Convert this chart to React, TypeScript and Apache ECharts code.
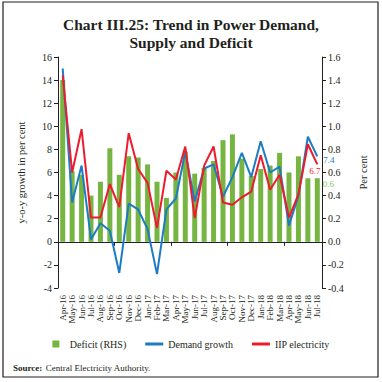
import React, { useEffect, useRef } from "react";
import * as echarts from "echarts";

const categories = [
  "Apr-16", "May-16", "Jun-16", "Jul-16", "Aug-16", "Sep-16", "Oct-16", "Nov-16", "Dec-16",
  "Jan-17", "Feb-17", "Mar-17", "Apr-17", "May-17", "Jun-17", "Jul-17", "Aug-17", "Sep-17",
  "Oct-17", "Nov-17", "Dec-17", "Jan-18", "Feb-18", "Mar-18", "Apr-18", "May-18", "Jun-18", "Jul-18",
];
const deficit = [
  1.4, 0.61, 0.58, 0.4, 0.52, 0.81, 0.58, 0.74, 0.73, 0.67, 0.52, 0.38, 0.6, 0.78,
  0.59, 0.64, 0.7, 0.88, 0.93, 0.72, 0.57, 0.63, 0.66, 0.77, 0.6, 0.74, 0.55, 0.55,
];
const demandGrowth = [
  15.0, 3.4, 6.6, 0.2, 1.6, 0.95, -2.7, 3.3, 2.8, 1.1, -2.8, 2.8, 3.75, 7.8,
  3.5, 6.35, 6.7, 3.9, 5.6, 7.7, 5.6, 8.7, 6.0, 6.5, 1.4, 4.0, 9.1, 7.4,
];
const iipElectricity = [
  14.4, 6.0, 9.75, 2.1, 2.1, 5.0, 3.0, 9.4, 6.3, 5.1, 1.2, 6.15, 5.4, 8.25,
  2.05, 6.6, 8.25, 3.4, 3.2, 3.85, 4.35, 7.5, 4.5, 5.8, 2.1, 4.1, 8.45, 6.7,
];
const leftTicks = { min: -4, max: 16, interval: 2 };
const rightTicks = { min: -0.4, max: 1.6, interval: 0.2 };

const GREEN = "#77b543";
const BLUE = "#1b7cc4";
const RED = "#ec1c2e";
const FONT = "'Liberation Serif', 'DejaVu Serif', serif";

export default function App() {
  const ref = useRef<HTMLDivElement>(null);
  useEffect(() => {
    if (!ref.current) return;
    const chart = echarts.init(ref.current, null, { renderer: "svg" });
    const last = categories.length - 1;
    const option: any = {
      animation: false,
      backgroundColor: "#ffffff",
      textStyle: { fontFamily: FONT, color: "#231f20" },
      title: {
        text: "Chart III.25: Trend in Power Demand,\nSupply and Deficit",
        left: "center",
        top: 10,
        textStyle: { fontFamily: FONT, fontWeight: "bold", fontSize: 15.5, lineHeight: 18, color: "#231f20" },
      },
      graphic: [
        {
          type: "rect",
          shape: { x: 3, y: 2, width: 375, height: 375 },
          style: { fill: "none", stroke: "#231f20", lineWidth: 1.2 },
          silent: true,
        },
        {
          type: "text",
          left: 13,
          top: 362,
          style: {
            rich: {
              b: { fontFamily: FONT, fontWeight: "bold", fontSize: 9, fill: "#231f20" },
              n: { fontFamily: FONT, fontSize: 9, fill: "#231f20" },
            },
            text: "{b|Source:} {n|Central Electricity Authority.}",
          },
        },
      ],
      legend: {
        bottom: 28,
        left: "center",
        itemWidth: 18,
        itemHeight: 7,
        itemGap: 19,
        textStyle: { fontFamily: FONT, fontSize: 10, color: "#231f20" },
        data: [
          { name: "Deficit (RHS)", icon: "path://M0,0H7V7H0Z" },
          { name: "Demand growth", icon: "path://M0,0H18V3H0Z" },
          { name: "IIP electricity", icon: "path://M0,0H18V3H0Z" },
        ],
      },
      grid: { left: 58, right: 60, top: 57, bottom: 94 },
      xAxis: [
        {
          type: "category",
          data: categories,
          axisLine: { onZero: true, lineStyle: { color: "#231f20", width: 1 } },
          axisTick: { show: true, length: 4, lineStyle: { color: "#231f20" } },
          axisLabel: { show: false },
          splitLine: { show: false },
        },
        {
          type: "category",
          data: categories,
          position: "bottom",
          axisLine: { show: false, onZero: false },
          axisTick: { show: false },
          axisLabel: {
            show: true,
            interval: 0,
            rotate: 90,
            margin: 7,
            fontFamily: FONT,
            fontSize: 9,
            color: "#231f20",
          },
        },
      ],
      yAxis: [
        {
          type: "value",
          ...leftTicks,
          name: "y-o-y growth in per cent",
          nameLocation: "middle",
          nameGap: 31,
          nameRotate: 90,
          nameTextStyle: { fontFamily: FONT, fontSize: 10.5, color: "#231f20" },
          axisLine: { show: true, lineStyle: { color: "#231f20" } },
          axisTick: { show: true, length: 4, lineStyle: { color: "#231f20" } },
          axisLabel: { fontFamily: FONT, fontSize: 10, color: "#231f20", margin: 6 },
          splitLine: { show: false },
        },
        {
          type: "value",
          ...rightTicks,
          position: "right",
          name: "Per cent",
          nameLocation: "middle",
          nameGap: 36,
          nameRotate: 90,
          nameTextStyle: { fontFamily: FONT, fontSize: 10.5, color: "#231f20" },
          axisLine: { show: true, lineStyle: { color: "#231f20" } },
          axisTick: { show: true, length: 4, lineStyle: { color: "#231f20" } },
          axisLabel: {
            fontFamily: FONT,
            fontSize: 10,
            color: "#231f20",
            margin: 6,
            formatter: (v: number) => v.toFixed(1),
          },
          splitLine: { show: false },
        },
      ],
      series: [
        {
          name: "Deficit (RHS)",
          type: "bar",
          xAxisIndex: 0,
          yAxisIndex: 1,
          barWidth: 5,
          itemStyle: { color: GREEN },
          data: deficit.map((v, i) =>
            i === last
              ? {
                  value: v,
                  label: {
                    show: true,
                    position: [8, 1],
                    formatter: () => v.toFixed(1),
                    fontFamily: FONT,
                    fontSize: 9,
                    color: "#8cc152",
                  },
                }
              : v
          ),
        },
        {
          name: "Demand growth",
          type: "line",
          xAxisIndex: 0,
          yAxisIndex: 0,
          symbol: "none",
          lineStyle: { color: BLUE, width: 2 },
          itemStyle: { color: BLUE },
          endLabel: {
            show: true,
            distance: 6,
            offset: [0, 4],
            formatter: (p: any) => Number(p.value).toFixed(1),
            fontFamily: FONT,
            fontSize: 9,
            color: BLUE,
          },
          data: demandGrowth,
        },
        {
          name: "IIP electricity",
          type: "line",
          xAxisIndex: 0,
          yAxisIndex: 0,
          symbol: "none",
          lineStyle: { color: RED, width: 2 },
          itemStyle: { color: RED },
          endLabel: {
            show: true,
            distance: 0,
            offset: [-8, 7],
            formatter: (p: any) => Number(p.value).toFixed(1),
            fontFamily: FONT,
            fontSize: 9,
            color: RED,
          },
          data: iipElectricity,
        },
      ],
    };
    chart.setOption(option);
    return () => chart.dispose();
  }, []);
  return (
    <div
      ref={ref}
      style={{ position: "fixed", left: 0, top: 0, width: 382, height: 382, background: "#fff" }}
    />
  );
}
